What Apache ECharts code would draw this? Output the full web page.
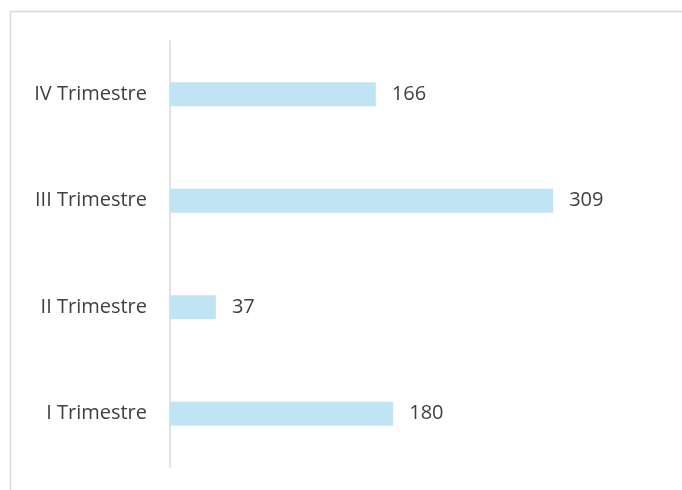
<!DOCTYPE html>
<html>
<head>
<meta charset="utf-8">
<style>
  html, body { margin: 0; padding: 0; background: #fff; }
  #chart { width: 682px; height: 490px; }
</style>
<script src="https://cdn.jsdelivr.net/npm/echarts@6/dist/echarts.min.js"></script>
</head>
<body>
<div id="chart"></div>
<script>
// categories from bottom to top
var categories = ['I Trimestre', 'II Trimestre', 'III Trimestre', 'IV Trimestre']
var values = [180, 37, 309, 166]

var chart = echarts.init(document.getElementById('chart'))
var option = {
  animation: false,
  textStyle: { fontFamily: 'Open Sans' },
  graphic: [
    {
      type: 'rect',
      shape: { x: 10.5, y: 11.5, width: 720, height: 520 },
      style: { fill: 'none', stroke: '#d9d9d9', lineWidth: 1.5 },
      silent: true
    }
  ],
  grid: { left: 170, right: 16, top: 41, bottom: 23, containLabel: false },
  xAxis: {
    type: 'value',
    min: 0,
    max: 400,
    show: false
  },
  yAxis: {
    type: 'category',
    data: categories,
    axisLine: { show: true, lineStyle: { color: '#d9d9d9', width: 1.5 } },
    axisTick: { show: false },
    axisLabel: { color: '#404040', fontSize: 20, margin: 23 }
  },
  series: [
    {
      type: 'bar',
      data: values,
      barWidth: 24,
      itemStyle: { color: '#c1e4f5' },
      label: {
        show: true,
        position: 'right',
        distance: 16,
        color: '#404040',
        fontSize: 20
      }
    }
  ]
}
chart.setOption(option)
</script>
</body>
</html>
